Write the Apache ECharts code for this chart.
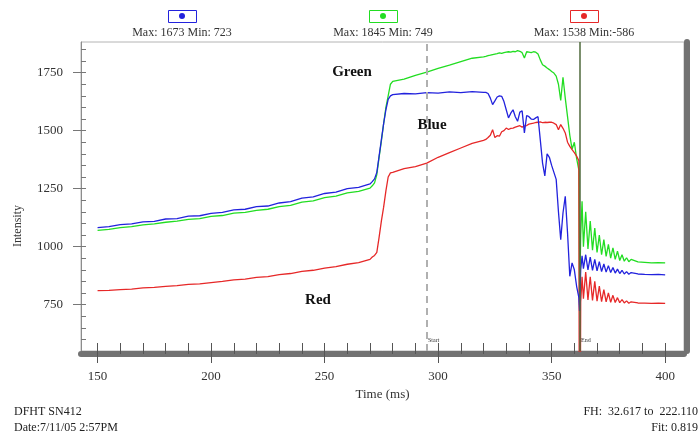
<!DOCTYPE html>
<html>
<head>
<meta charset="utf-8">
<script src="https://cdn.jsdelivr.net/npm/echarts@6.0.0/dist/echarts.min.js"></script>
<style>
  html, body { margin: 0; padding: 0; background: #fff; }
  #chart { width: 700px; height: 437px; }
</style>
</head>
<body>
<div id="chart"></div>
<script>
// time axis (ms) shared by the three traces
var timeMs = [
  150,155,160,165,170,175,180,185,190,195,200,205,210,215,220,225,230,235,240,245,250,255,260,265,270,
  271,272,273,274,275,276,277,278,279,280,
  285,290,295,300,305,310,315,320,
  321,322,323,324,325,326,327,328,329,330,331,332,333,334,335,336,337,338,339,340,
  341,342,343,344,345,346,347,348,349,350,351,352,353,354,355,356,357,358,359,360,361,362,
  362.3,362.8,363.4,
  364,365,366,367,368,369,370,371,372,373,374,375,376,377,378,379,380,381,382,383,384,385,
  388,391,394,397,400
];

var blueVals = [
  1082,1086,1095,1098,1107,1109,1119,1121,1131,1133,1143,1148,1158,1161,1172,1175,1188,1194,1209,1214,1229,1235,1250,1255,1270,
  1280,1292,1320,1390,1460,1530,1590,1635,1650,1655,
  1660,1658,1664,1662,1667,1664,1668,1665,
  1665,1660,1640,1612,1628,1645,1650,1648,1625,1590,1555,1575,1590,1560,1540,1580,1585,1490,1565,1560,
  1550,1548,1555,1560,1460,1360,1305,1400,1385,1350,1320,1290,1150,1030,1145,1217,1060,872,930,900,829,780,
  723,900,960,
  905,965,900,955,898,945,895,935,892,925,890,918,888,910,886,903,884,898,882,892,881,888,
  882,880,879,880,878
];

var greenVals = [
  1070,1074,1082,1086,1094,1098,1105,1110,1117,1121,1130,1134,1144,1148,1156,1161,1172,1178,1192,1197,1211,1218,1232,1238,1252,
  1262,1275,1310,1385,1455,1530,1600,1650,1700,1712,
  1722,1738,1752,1768,1782,1797,1812,1818,
  1820,1823,1825,1828,1830,1832,1835,1833,1836,1838,1840,1838,1842,1840,1845,1842,1836,1813,1840,1838,
  1836,1840,1838,1830,1805,1784,1778,1770,1763,1755,1748,1735,1700,1630,1730,1640,1560,1480,1420,1450,1380,1330,
  749,1050,1195,
  1000,1150,990,1110,985,1080,975,1050,965,1030,958,1010,950,995,945,980,940,965,937,952,935,945,
  934,932,930,931,930
];

var redVals = [
  810,811,815,817,822,824,829,832,837,839,845,850,857,860,867,871,879,884,893,898,907,914,924,931,945,
  955,962,975,1040,1110,1170,1240,1300,1318,1320,
  1336,1345,1360,1385,1405,1425,1445,1458,
  1462,1470,1480,1504,1470,1478,1476,1495,1500,1511,1505,1510,1511,1515,1518,1521,1515,1520,1522,1528,
  1530,1532,1535,1536,1538,1534,1536,1535,1536,1536,1532,1526,1504,1526,1510,1490,1450,1432,1418,1405,1390,1370,
  -586,760,870,
  775,890,770,870,768,850,765,830,763,815,762,800,760,790,759,780,758,772,757,766,756,762,
  757,756,755,756,755
];

// legend stats shown above the plot
var traceNames = ['Blue', 'Green', 'Red'];
var traceColors = ['#2222dd', '#22dd22', '#e62828'];
var traceMax = [1673, 1845, 1538];
var traceMin = [723, 749, -586];

var xLabels = [150, 200, 250, 300, 350, 400];
var xMinorTicks = [150,160,170,180,190,200,210,220,230,240,250,260,270,280,290,300,310,320,330,340,350,360,370,380,390,400];
var yLabels = [750, 1000, 1250, 1500, 1750];
var yMinorTicks = [600,650,700,750,800,850,900,950,1000,1050,1100,1150,1200,1250,1300,1350,1400,1450,1500,1550,1600,1650,1700,1750,1800,1850];

var startMs = 294.9;
var endMs = 362.3;

var footLeft = ['DFHT SN412', 'Date:7/11/05 2:57PM'];
var footRight = ['FH:  32.617 to  222.110', 'Fit: 0.819'];

var FONT = '"Liberation Serif", "DejaVu Serif", serif';

function pairs(vals) {
  var out = [];
  for (var i = 0; i < timeMs.length; i++) out.push([timeMs[i], vals[i]]);
  return out;
}

function statText(i) {
  var mn = traceMin[i] < 0 ? '' + traceMin[i] : ' ' + traceMin[i];
  return 'Max: ' + traceMax[i] + ' Min:' + mn;
}

var chart = echarts.init(document.getElementById('chart'), null, { renderer: 'canvas' });

var legendX = [182, 383, 584];
var graphics = [];
for (var i = 0; i < 3; i++) {
  graphics.push({
    type: 'rect', left: legendX[i] - 14, top: 10,
    shape: { width: 28, height: 12 },
    style: { fill: '#fff', stroke: traceColors[i], lineWidth: 1 }
  });
  graphics.push({
    type: 'circle', x: legendX[i], y: 16,
    shape: { cx: 0, cy: 0, r: 3 },
    style: { fill: traceColors[i] }
  });
  graphics.push({
    type: 'text', x: legendX[i], y: 33,
    style: { text: statText(i), font: '12px ' + FONT, fill: '#333', textAlign: 'center', textVerticalAlign: 'middle' }
  });
}
// trace name annotations
graphics.push({ type: 'text', x: 352, y: 72, style: { text: 'Green', font: 'bold 15px ' + FONT, fill: '#111', textAlign: 'center', textVerticalAlign: 'middle' } });
graphics.push({ type: 'text', x: 432, y: 125, style: { text: 'Blue', font: 'bold 15px ' + FONT, fill: '#111', textAlign: 'center', textVerticalAlign: 'middle' } });
graphics.push({ type: 'text', x: 318, y: 300, style: { text: 'Red', font: 'bold 15px ' + FONT, fill: '#111', textAlign: 'center', textVerticalAlign: 'middle' } });
// y axis title
graphics.push({ type: 'text', x: 18, y: 226, rotation: Math.PI / 2, style: { text: 'Intensity', font: '12px ' + FONT, fill: '#333', textAlign: 'center', textVerticalAlign: 'middle' } });
// start / end tags
graphics.push({ type: 'text', x: 428, y: 340, style: { text: 'Start', font: '6px ' + FONT, fill: '#333', textVerticalAlign: 'middle' } });
graphics.push({ type: 'text', x: 581, y: 340, style: { text: 'End', font: '6px ' + FONT, fill: '#333', textVerticalAlign: 'middle' } });
// footer
graphics.push({ type: 'text', x: 14, y: 412, style: { text: footLeft[0], font: '12px ' + FONT, fill: '#222', textVerticalAlign: 'middle' } });
graphics.push({ type: 'text', x: 14, y: 428, style: { text: footLeft[1], font: '12px ' + FONT, fill: '#222', textVerticalAlign: 'middle' } });
graphics.push({ type: 'text', x: 698, y: 412, style: { text: footRight[0], font: '12px ' + FONT, fill: '#222', textAlign: 'right', textVerticalAlign: 'middle' } });
graphics.push({ type: 'text', x: 698, y: 428, style: { text: footRight[1], font: '12px ' + FONT, fill: '#222', textAlign: 'right', textVerticalAlign: 'middle' } });

var xMin = 142.7, xMax = 408.3, yMin = 550, yMax = 1882;

chart.setOption({
  backgroundColor: '#fff',
  animation: false,
  grid: {
    left: 81, right: 16, top: 42, bottom: 86,
    show: true, borderColor: '#b4b4b4', borderWidth: 1
  },
  graphic: graphics,
  xAxis: [
    {
      type: 'value', min: xMin, max: xMax, position: 'bottom', offset: 3,
      axisLine: { lineStyle: { color: '#727272', width: 6 } },
      axisTick: { customValues: xMinorTicks, inside: true, length: 11, lineStyle: { color: '#555', width: 1 } },
      axisLabel: { customValues: xLabels, margin: 16, color: '#333', fontFamily: FONT, fontSize: 13, formatter: function (v) { return '' + v; } },
      splitLine: { show: false },
      name: 'Time (ms)', nameLocation: 'middle', nameGap: 31,
      nameTextStyle: { color: '#333', fontFamily: FONT, fontSize: 13 }
    },
    {
      type: 'value', min: xMin, max: xMax, position: 'bottom', offset: 3,
      axisLine: { show: false },
      axisTick: { customValues: xLabels, inside: false, length: 9, lineStyle: { color: '#555', width: 1 } },
      axisLabel: { show: false },
      splitLine: { show: false }
    }
  ],
  yAxis: [
    {
      type: 'value', min: yMin, max: yMax, position: 'left',
      axisLine: { show: true, lineStyle: { color: '#8c8c8c', width: 1 } },
      axisTick: { customValues: yMinorTicks, inside: true, length: 5, lineStyle: { color: '#777' } },
      axisLabel: { customValues: yLabels, margin: 18, color: '#333', fontFamily: FONT, fontSize: 13, formatter: function (v) { return '' + v; } },
      splitLine: { show: false }
    },
    {
      type: 'value', min: yMin, max: yMax, position: 'left',
      axisLine: { show: false },
      axisTick: { customValues: yLabels, inside: false, length: 8, lineStyle: { color: '#777' } },
      axisLabel: { show: false },
      splitLine: { show: false }
    },
    {
      type: 'value', min: yMin, max: yMax, position: 'right', offset: 3,
      axisLine: { show: true, lineStyle: { color: '#727272', width: 6 } },
      axisTick: { show: false },
      axisLabel: { show: false },
      splitLine: { show: false }
    }
  ],
  series: [
    {
      name: 'Green', type: 'line', showSymbol: false, data: pairs(greenVals),
      lineStyle: { color: traceColors[1], width: 1.3 }, itemStyle: { color: traceColors[1] },
      markLine: {
        silent: true, symbol: 'none', label: { show: false },
        data: [
          { xAxis: startMs, lineStyle: { color: '#b0b0b0', type: [7, 5], width: 2 } },
          { xAxis: endMs, lineStyle: { color: '#4f6a3c', type: 'solid', width: 1.5 } }
        ]
      }
    },
    {
      name: 'Red', type: 'line', showSymbol: false, data: pairs(redVals),
      lineStyle: { color: traceColors[2], width: 1.3 }, itemStyle: { color: traceColors[2] }
    },
    {
      name: 'Blue', type: 'line', showSymbol: false, data: pairs(blueVals),
      lineStyle: { color: traceColors[0], width: 1.3 }, itemStyle: { color: traceColors[0] }
    }
  ]
});
</script>
</body>
</html>
